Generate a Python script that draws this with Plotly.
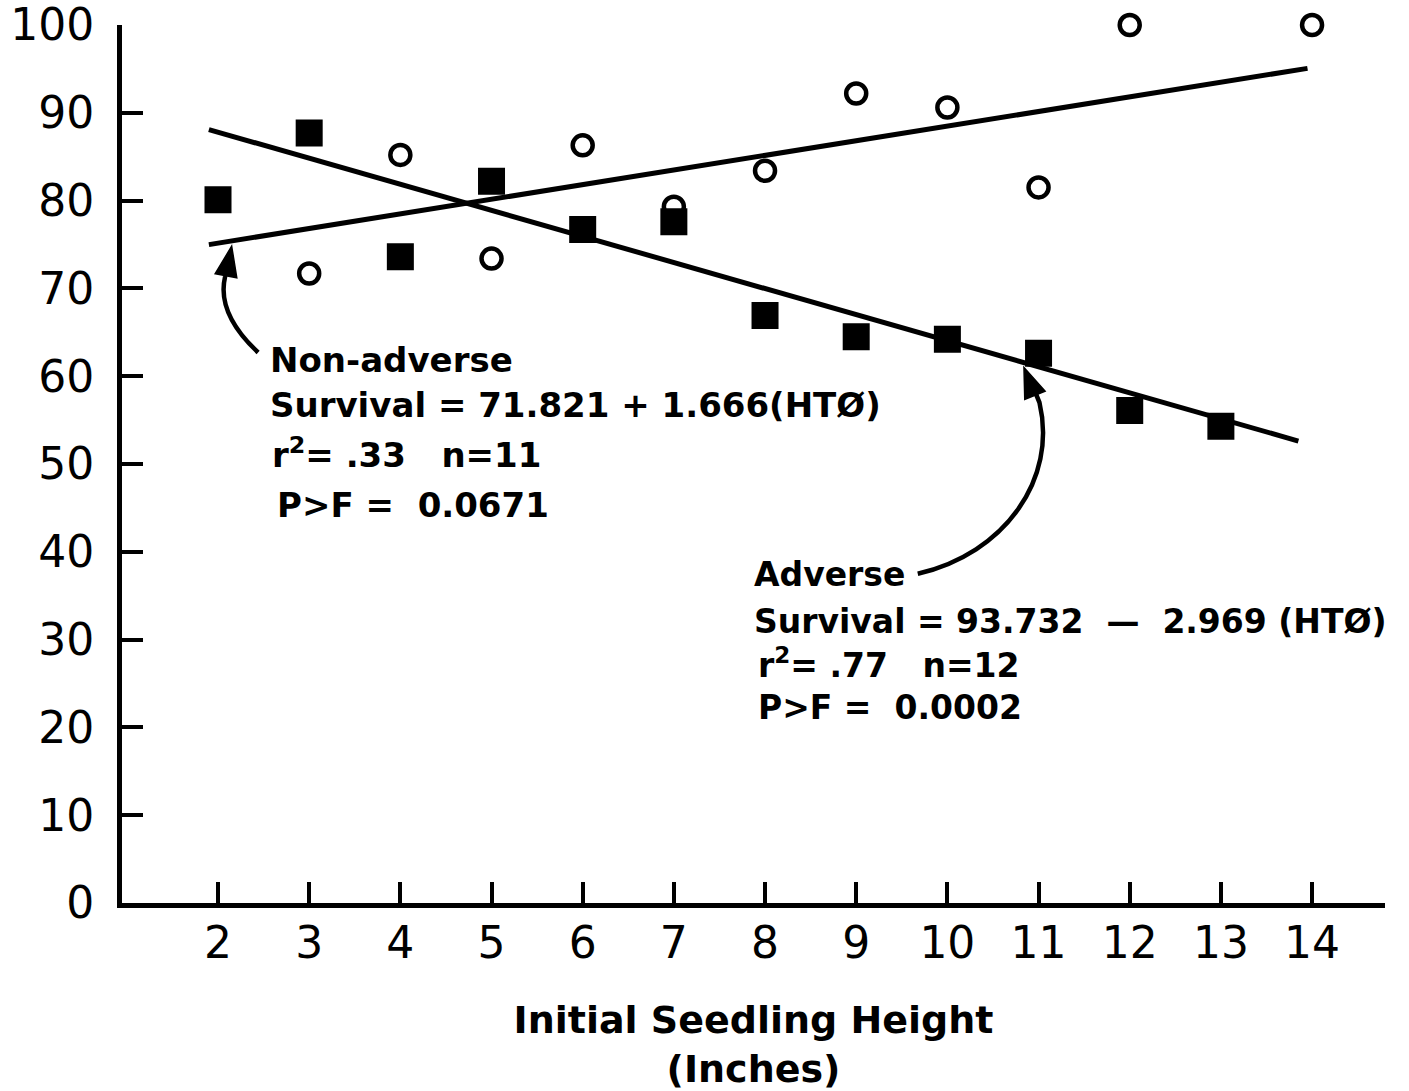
import plotly.graph_objects as go
import numpy as np

# ---------------- data ----------------
x_tick_values = [2, 3, 4, 5, 6, 7, 8, 9, 10, 11, 12, 13, 14]
y_tick_values = [0, 10, 20, 30, 40, 50, 60, 70, 80, 90, 100]

adverse_height = [2, 3, 4, 5, 6, 7, 8, 9, 10, 11, 12, 13]
adverse_survival = [80.1, 87.7, 73.6, 82.2, 76.7, 77.6, 66.9, 64.5, 64.2, 62.6, 56.1, 54.3]

nonadverse_height = [3, 4, 5, 6, 7, 8, 9, 10, 11, 12, 14]
nonadverse_survival = [71.7, 85.2, 73.4, 86.3, 79.3, 83.4, 92.2, 90.6, 81.5, 100.0, 100.0]

nonadverse_intercept, nonadverse_slope = 71.821, 1.666
adverse_intercept, adverse_slope = 93.732, -2.969
nonadverse_fit_span = [1.9, 13.95]
adverse_fit_span = [1.9, 13.85]

# ---------------- figure ----------------
INK = "black"
FONT = "DejaVu Sans"
NB = "\u00a0"

fig = go.Figure()

nx = np.array(nonadverse_fit_span)
axx = np.array(adverse_fit_span)
fig.add_trace(go.Scatter(x=nx, y=nonadverse_intercept + nonadverse_slope * nx,
                         mode="lines", line=dict(color=INK, width=5),
                         name="Non-adverse fit", showlegend=False, hoverinfo="skip"))
fig.add_trace(go.Scatter(x=axx, y=adverse_intercept + adverse_slope * axx,
                         mode="lines", line=dict(color=INK, width=5),
                         name="Adverse fit", showlegend=False, hoverinfo="skip"))

fig.add_trace(go.Scatter(x=adverse_height, y=adverse_survival, mode="markers",
                         marker=dict(symbol="square", size=25, color=INK,
                                     line=dict(color=INK, width=2)),
                         name="Adverse", showlegend=False, cliponaxis=False))
fig.add_trace(go.Scatter(x=nonadverse_height, y=nonadverse_survival, mode="markers",
                         marker=dict(symbol="circle-open", size=20, color=INK,
                                     line=dict(color=INK, width=4.5)),
                         name="Non-adverse", showlegend=False, cliponaxis=False))

# curved arrows (bodies + heads, data coordinates)
fig.add_shape(type="path", xref="x", yref="y",
              path="M 2.44,62.7 C 2.11,65.9 2.02,68.75 2.077,71.3 L 2.12,73.5",
              line=dict(color=INK, width=4.5))
fig.add_shape(type="path", xref="x", yref="y",
              path="M 2.15,74.8 L 2.206,71.2 L 1.969,71.67 Z",
              fillcolor=INK, line=dict(color=INK, width=1.5))
fig.add_shape(type="path", xref="x", yref="y",
              path="M 9.675,37.5 C 10.63,39.77 11.21,48.3 11.01,57.0 L 10.90,59.8",
              line=dict(color=INK, width=4.5))
fig.add_shape(type="path", xref="x", yref="y",
              path="M 10.84,61.0 L 11.072,58.28 L 10.849,57.37 Z",
              fillcolor=INK, line=dict(color=INK, width=1.5))

nonadverse_lines = [
    (2.55, 61.9, "<b>Non-adverse</b>"),
    (2.55, 56.7, "<b>Survival = 71.821 + 1.666(HTØ)</b>"),
    (2.57, 51.2, f"<b>r<sup>2</sup>= .33{NB*3}n=11</b>"),
    (2.62, 45.3, f"<b>P>F{NB}={NB}{NB}0.0671</b>"),
]
adverse_lines = [
    (7.86, 37.4, "<b>Adverse</b>"),
    (7.86, 32.1, f"<b>Survival = 93.732 {NB}—{NB} 2.969{NB}(HTØ)</b>"),
    (7.90, 27.3, f"<b>r<sup>2</sup>= .77{NB*3}n=12</b>"),
    (7.90, 22.3, f"<b>P>F{NB}={NB}{NB}0.0002</b>"),
]
for x, y, t in nonadverse_lines:
    fig.add_annotation(x=x, y=y, xref="x", yref="y", text=t, showarrow=False,
                       xanchor="left", yanchor="middle",
                       font=dict(family=FONT, size=34, color=INK))
for x, y, t in adverse_lines:
    fig.add_annotation(x=x, y=y, xref="x", yref="y", text=t, showarrow=False,
                       xanchor="left", yanchor="middle",
                       font=dict(family=FONT, size=33, color=INK))

fig.update_layout(
    width=1409, height=1091,
    margin=dict(l=122, r=24, t=25, b=188, autoexpand=False),
    paper_bgcolor="white", plot_bgcolor="white",
    showlegend=False,
    font=dict(family=FONT, color=INK),
)
fig.update_xaxes(
    range=[0.947, 14.8], tickvals=x_tick_values, ticktext=[str(v) for v in x_tick_values],
    ticks="inside", ticklen=21, tickwidth=3.5, tickcolor=INK,
    showline=True, linecolor=INK, linewidth=5, showgrid=False, zeroline=False,
    automargin=False, ticklabeloverflow="allow",
    tickfont=dict(family=FONT, size=44, color=INK), ticklabelstandoff=-3,
    title=dict(text="<b>Initial Seedling Height<br>(Inches)</b>",
               font=dict(family=FONT, size=38, color=INK), standoff=41),
)
fig.update_yaxes(
    range=[0, 100], tickvals=y_tick_values, ticktext=[str(v) for v in y_tick_values],
    ticks="inside", ticklen=21, tickwidth=3.5, tickcolor=INK,
    showline=True, linecolor=INK, linewidth=5, showgrid=False, zeroline=False,
    automargin=False, ticklabeloverflow="allow",
    tickfont=dict(family=FONT, size=44, color=INK), ticklabelstandoff=14,
)

fig.write_html("out.html", post_script="document.body.style.margin='0';",
               config={"displayModeBar": False})
